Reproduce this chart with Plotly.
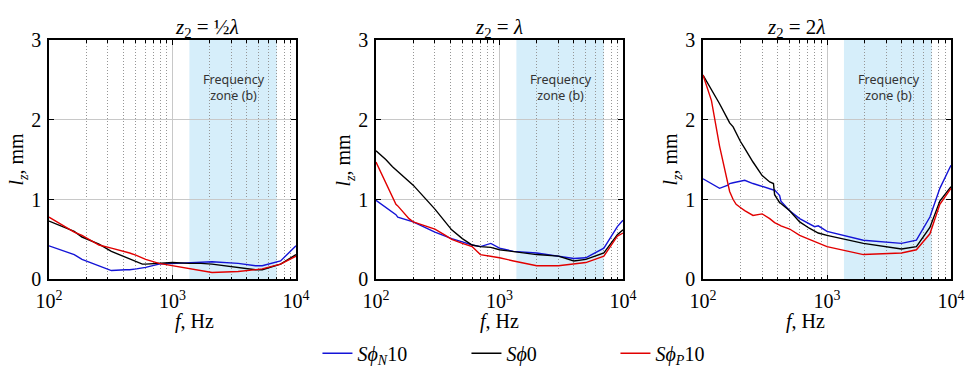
import numpy as np
import plotly.graph_objects as go

# ---------------- data ----------------
f1 = [100, 160, 185, 254, 320, 417, 450, 510, 570, 606, 777, 1000, 1360, 1700, 2090, 3400, 4700, 5330, 7500, 10000]
p1_blue  = [0.42, 0.31, 0.25, 0.17, 0.11, 0.12, 0.12, 0.13, 0.14, 0.15, 0.19, 0.20, 0.21, 0.22, 0.22, 0.20, 0.17, 0.17, 0.23, 0.42]
p1_black = [0.73, 0.60, 0.53, 0.44, 0.35, 0.28, 0.25, 0.22, 0.19, 0.19, 0.20, 0.21, 0.20, 0.20, 0.19, 0.15, 0.12, 0.12, 0.19, 0.31]
p1_red   = [0.78, 0.59, 0.55, 0.43, 0.39, 0.35, 0.33, 0.30, 0.27, 0.25, 0.20, 0.17, 0.13, 0.11, 0.085, 0.097, 0.12, 0.13, 0.19, 0.29]

f2 = [100, 120, 136, 145, 150, 185, 200, 300, 365, 393, 410, 500, 600, 700, 850, 1000, 1300, 2000, 3000, 4000, 5000, 7000, 9000, 10000]
p2_blue  = [0.99, 0.90, 0.84, 0.81, 0.78, 0.74, 0.72, 0.59, 0.54, 0.52, 0.51, 0.47, 0.43, 0.41, 0.45, 0.39, 0.35, 0.33, 0.29, 0.26, 0.27, 0.39, 0.66, 0.74]
p2_black = [1.61, 1.50, 1.41, 1.37, 1.35, 1.22, 1.18, 0.88, 0.72, 0.66, 0.62, 0.51, 0.43, 0.41, 0.40, 0.37, 0.35, 0.31, 0.29, 0.23, 0.25, 0.33, 0.56, 0.62]
p2_red   = [1.47, 1.20, 1.02, 0.94, 0.92, 0.76, 0.72, 0.63, 0.55, 0.52, 0.50, 0.45, 0.41, 0.31, 0.29, 0.27, 0.23, 0.17, 0.17, 0.19, 0.21, 0.29, 0.54, 0.58]

f3 = [100, 117, 136, 159, 164, 175, 185, 200, 217, 253, 300, 345, 370, 378, 415, 425, 500, 602, 720, 795, 850, 1000,
      1965, 3990, 5260, 6760, 8130, 10000]
p3_blue  = [1.26, 1.20, 1.14, 1.18, 1.20, 1.21, 1.22, 1.23, 1.24, 1.20, 1.16, 1.13, 1.12, 1.12, 1.05, 0.98, 0.86, 0.76, 0.70, 0.66, 0.67, 0.60,
            0.49, 0.45, 0.49, 0.78, 1.14, 1.43]
p3_black = [2.56, 2.38, 2.20, 2.00, 1.96, 1.91, 1.83, 1.73, 1.64, 1.47, 1.30, 1.22, 1.20, 1.06, 0.96, 0.95, 0.86, 0.72, 0.64, 0.60, 0.58, 0.55,
            0.45, 0.38, 0.41, 0.65, 0.98, 1.16]
p3_red   = [2.56, 2.24, 1.67, 1.18, 1.10, 1.00, 0.94, 0.90, 0.86, 0.80, 0.82, 0.76, 0.72, 0.71, 0.68, 0.67, 0.63, 0.55, 0.50, 0.47, 0.45, 0.41,
            0.31, 0.33, 0.37, 0.57, 0.94, 1.14]

titles = ["<i>z</i><sub>2</sub> = ½<i>λ</i>", "<i>z</i><sub>2</sub> = <i>λ</i>", "<i>z</i><sub>2</sub> = 2<i>λ</i>"]
series_names = ["<i>Sϕ</i><sub><i>N</i></sub>10", "<i>Sϕ</i>0", "<i>Sϕ</i><sub><i>P</i></sub>10"]
series_colors = ["rgb(20,20,215)", "rgb(0,0,0)", "rgb(225,0,0)"]
zone = [1370, 7000]
zone_label = "Frequency<br>zone (b)"
x_title = "<i>f</i>, Hz"
y_title = "<i>l<sub>z</sub></i>, mm"
x_tickvals = [100, 1000, 10000]
x_ticktext = ["10<sup>2</sup>", "10<sup>3</sup>", "10<sup>4</sup>"]
minor_vals = [200, 300, 400, 500, 600, 700, 800, 900, 2000, 3000, 4000, 5000, 6000, 7000, 8000, 9000]
y_tickvals = [0, 1, 2, 3]
x_range = [100, 10000]
y_range = [0, 3]

panels = [
    (f1, [p1_blue, p1_black, p1_red]),
    (f2, [p2_blue, p2_black, p2_red]),
    (f3, [p3_blue, p3_black, p3_red]),
]

# ---------------- layout ----------------
W, H = 966, 373
x_domains = [(49 / W, 296 / W), (376 / W, 623 / W), (703 / W, 951 / W)]
y_domain = (1 - 287 / H, 1 - 41 / H)
FONT = "Liberation Serif"
lx0, lx1 = np.log10(x_range[0]), np.log10(x_range[1])

fig = go.Figure()
for i, (f, ys) in enumerate(panels):
    ax = "" if i == 0 else str(i + 1)
    for j, y in enumerate(ys):
        fig.add_trace(go.Scatter(
            x=f, y=y, mode="lines", name=series_names[j],
            line=dict(color=series_colors[j], width=1.4),
            xaxis="x" + ax, yaxis="y" + ax, showlegend=(i == 0),
        ))
    fig.add_shape(type="rect", xref="x" + ax + " domain", yref="y" + ax + " domain",
                  x0=(np.log10(zone[0]) - lx0) / (lx1 - lx0),
                  x1=(np.log10(zone[1]) - lx0) / (lx1 - lx0),
                  y0=0, y1=1,
                  fillcolor="rgb(214,238,250)", line_width=0, layer="below")
    fig.add_annotation(xref="x" + ax, yref="y" + ax, x=np.log10(3150), y=2.4,
                       text=zone_label, showarrow=False,
                       font=dict(family="Noto Sans", size=12.5, color="#333"))
    xc = (x_domains[i][0] + x_domains[i][1]) / 2
    fig.add_annotation(xref="paper", yref="paper", x=xc, y=1 - 29 / H,
                       text=titles[i], showarrow=False, yanchor="middle",
                       font=dict(family=FONT, size=21, color="black"))
    fig.add_annotation(xref="paper", yref="paper", x=xc, y=1 - 330 / H,
                       text=x_title, showarrow=False, yanchor="middle",
                       font=dict(family=FONT, size=20, color="black"))
    fig.add_annotation(xref="paper", yref="paper", x=x_domains[i][0] - 31 / W,
                       y=(y_domain[0] + y_domain[1]) / 2, textangle=-90,
                       text=y_title, showarrow=False, xanchor="center", yanchor="middle",
                       font=dict(family=FONT, size=20, color="black"))

    xa = dict(
        type="log", range=[lx0, lx1], domain=x_domains[i], anchor="y" + ax, automargin=False,
        tickmode="array", tickvals=x_tickvals, ticktext=x_ticktext,
        ticks="inside", ticklen=5, tickwidth=1, tickcolor="black", ticklabelstandoff=3,
        showline=True, linecolor="black", linewidth=1.5, mirror="ticks",
        showgrid=True, gridcolor="rgb(200,200,200)", gridwidth=1,
        minor=dict(tickvals=minor_vals, ticks="inside", ticklen=3, tickcolor="black",
                   showgrid=True, gridcolor="rgb(150,150,150)", griddash="1px,2px", gridwidth=1),
        tickfont=dict(family=FONT, size=20, color="black"),
        zeroline=False,
    )
    ya = dict(
        range=y_range, domain=y_domain, anchor="x" + ax, automargin=False,
        tickmode="array", tickvals=y_tickvals,
        ticks="inside", ticklen=5, tickwidth=1, tickcolor="black", ticklabelstandoff=2,
        showline=True, linecolor="black", linewidth=1.5, mirror="ticks",
        showgrid=True, gridcolor="rgb(200,200,200)", gridwidth=1,
        tickfont=dict(family=FONT, size=20, color="black"),
        zeroline=False,
    )
    fig.update_layout({"xaxis" + ax: xa, "yaxis" + ax: ya})

fig.update_layout(
    width=W, height=H,
    margin=dict(l=0, r=0, t=0, b=0),
    paper_bgcolor="white", plot_bgcolor="white",
    showlegend=True,
    legend=dict(orientation="h", x=0.56, xanchor="center", y=10 / H, yanchor="middle",
                font=dict(family=FONT, size=20, color="black"),
                entrywidth=104, bgcolor="rgba(0,0,0,0)"),
)

fig.write_html("out.html")
